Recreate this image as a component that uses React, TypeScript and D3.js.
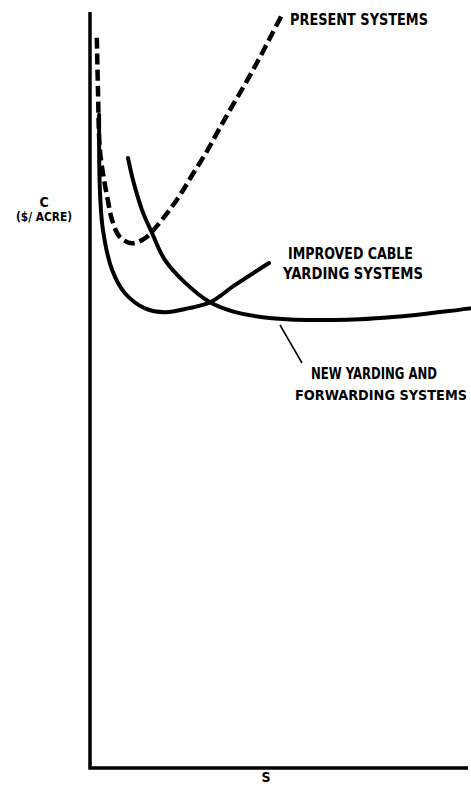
import React from "react";
import * as d3 from "d3";

// S (arbitrary units 0-100) and C (arbitrary units 0-100)
const presentS = [1.8, 2.1, 2.6, 3.7, 4.7, 5.8, 7.9, 11.1, 14.5, 17.1, 20.3, 23.7, 27.1, 30.8, 34.2, 37.6, 41.3, 44.7, 47.9, 50.8];
const presentC = [96.6, 89.7, 81.8, 77.8, 75.1, 72.5, 70.2, 69.4, 70.1, 71.4, 73.4, 75.8, 78.6, 81.6, 84.7, 87.7, 90.9, 94.0, 97.1, 99.9];

const cableS = [2.4, 2.6, 3.4, 5.8, 9.2, 14.5, 19.7, 25.8, 31.6, 38.2, 47.1];
const cableC = [86.4, 76.5, 71.2, 65.9, 62.8, 60.8, 60.3, 60.8, 61.6, 63.9, 66.8];

const newS = [10.0, 11.3, 13.7, 16.3, 19.7, 25.0, 31.6, 38.2, 47.9, 67.6, 85.0, 100];
const newC = [80.7, 77.8, 73.8, 70.8, 67.2, 64.2, 61.6, 60.3, 59.5, 59.3, 59.9, 60.8];

const labels = {
  present: "PRESENT SYSTEMS",
  cable: ["IMPROVED CABLE", "YARDING SYSTEMS"],
  newSys: ["NEW YARDING AND", "FORWARDING SYSTEMS"],
  yTitle: ["C", "($/ ACRE)"],
  xTitle: "S",
};

const W = 471;
const H = 791;

export default function App() {
  const x = d3.scaleLinear().domain([0, 100]).range([90, 470]);
  const y = d3.scaleLinear().domain([0, 100]).range([768, 12]);

  const line = d3
    .line<[number, number]>()
    .x((d) => x(d[0]))
    .y((d) => y(d[1]))
    .curve(d3.curveCatmullRom.alpha(0.5));

  const zip = (a: number[], b: number[]) => a.map((v, i) => [v, b[i]] as [number, number]);

  const font = "'DejaVu Sans Condensed', 'DejaVu Sans', sans-serif";
  const txt = (s: string, x0: number, base: number, x1: number, size = 15) => (
    <text
      x={x0}
      y={base}
      textLength={x1 - x0}
      lengthAdjust="spacingAndGlyphs"
      fontFamily={font}
      fontWeight="bold"
      fontSize={size}
      fill="#000"
    >
      {s}
    </text>
  );

  return (
    <svg
      width={W}
      height={H}
      viewBox={`0 0 ${W} ${H}`}
      style={{ position: "absolute", left: 0, top: 0, background: "#fff" }}
    >
      <rect width={W} height={H} fill="#fff" />
      {/* axes */}
      <path
        d={`M${x(0)},${y(100)} V${y(0)} H${x(100) - 2}`}
        fill="none"
        stroke="#000"
        strokeWidth={3.5}
        strokeLinejoin="miter"
      />
      {/* curves */}
      <path
        d={line(zip(presentS, presentC)) || ""}
        fill="none"
        stroke="#000"
        strokeWidth={4.5}
        strokeDasharray="11,5"
      />
      <path d={line(zip(cableS, cableC)) || ""} fill="none" stroke="#000" strokeWidth={4} strokeLinecap="round" />
      <path d={line(zip(newS, newC)) || ""} fill="none" stroke="#000" strokeWidth={4} strokeLinecap="round" />
      {/* leader */}
      <line x1={280} y1={325} x2={302} y2={363} stroke="#000" strokeWidth={1.5} />
      {/* labels */}
      {txt(labels.present, 290, 25, 428)}
      {txt(labels.cable[0], 288, 259, 413)}
      {txt(labels.cable[1], 283, 279, 423)}
      {txt(labels.newSys[0], 311, 379, 437)}
      {txt(labels.newSys[1], 295, 400, 467, 13.5)}
      <text x={44} y={207} textAnchor="middle" fontFamily={font} fontWeight="bold" fontSize={14}>
        {labels.yTitle[0]}
      </text>
      {txt(labels.yTitle[1], 16, 221, 72, 13)}
      <text x={266} y={782} textAnchor="middle" fontFamily={font} fontWeight="bold" fontSize={14}>
        {labels.xTitle}
      </text>
    </svg>
  );
}
